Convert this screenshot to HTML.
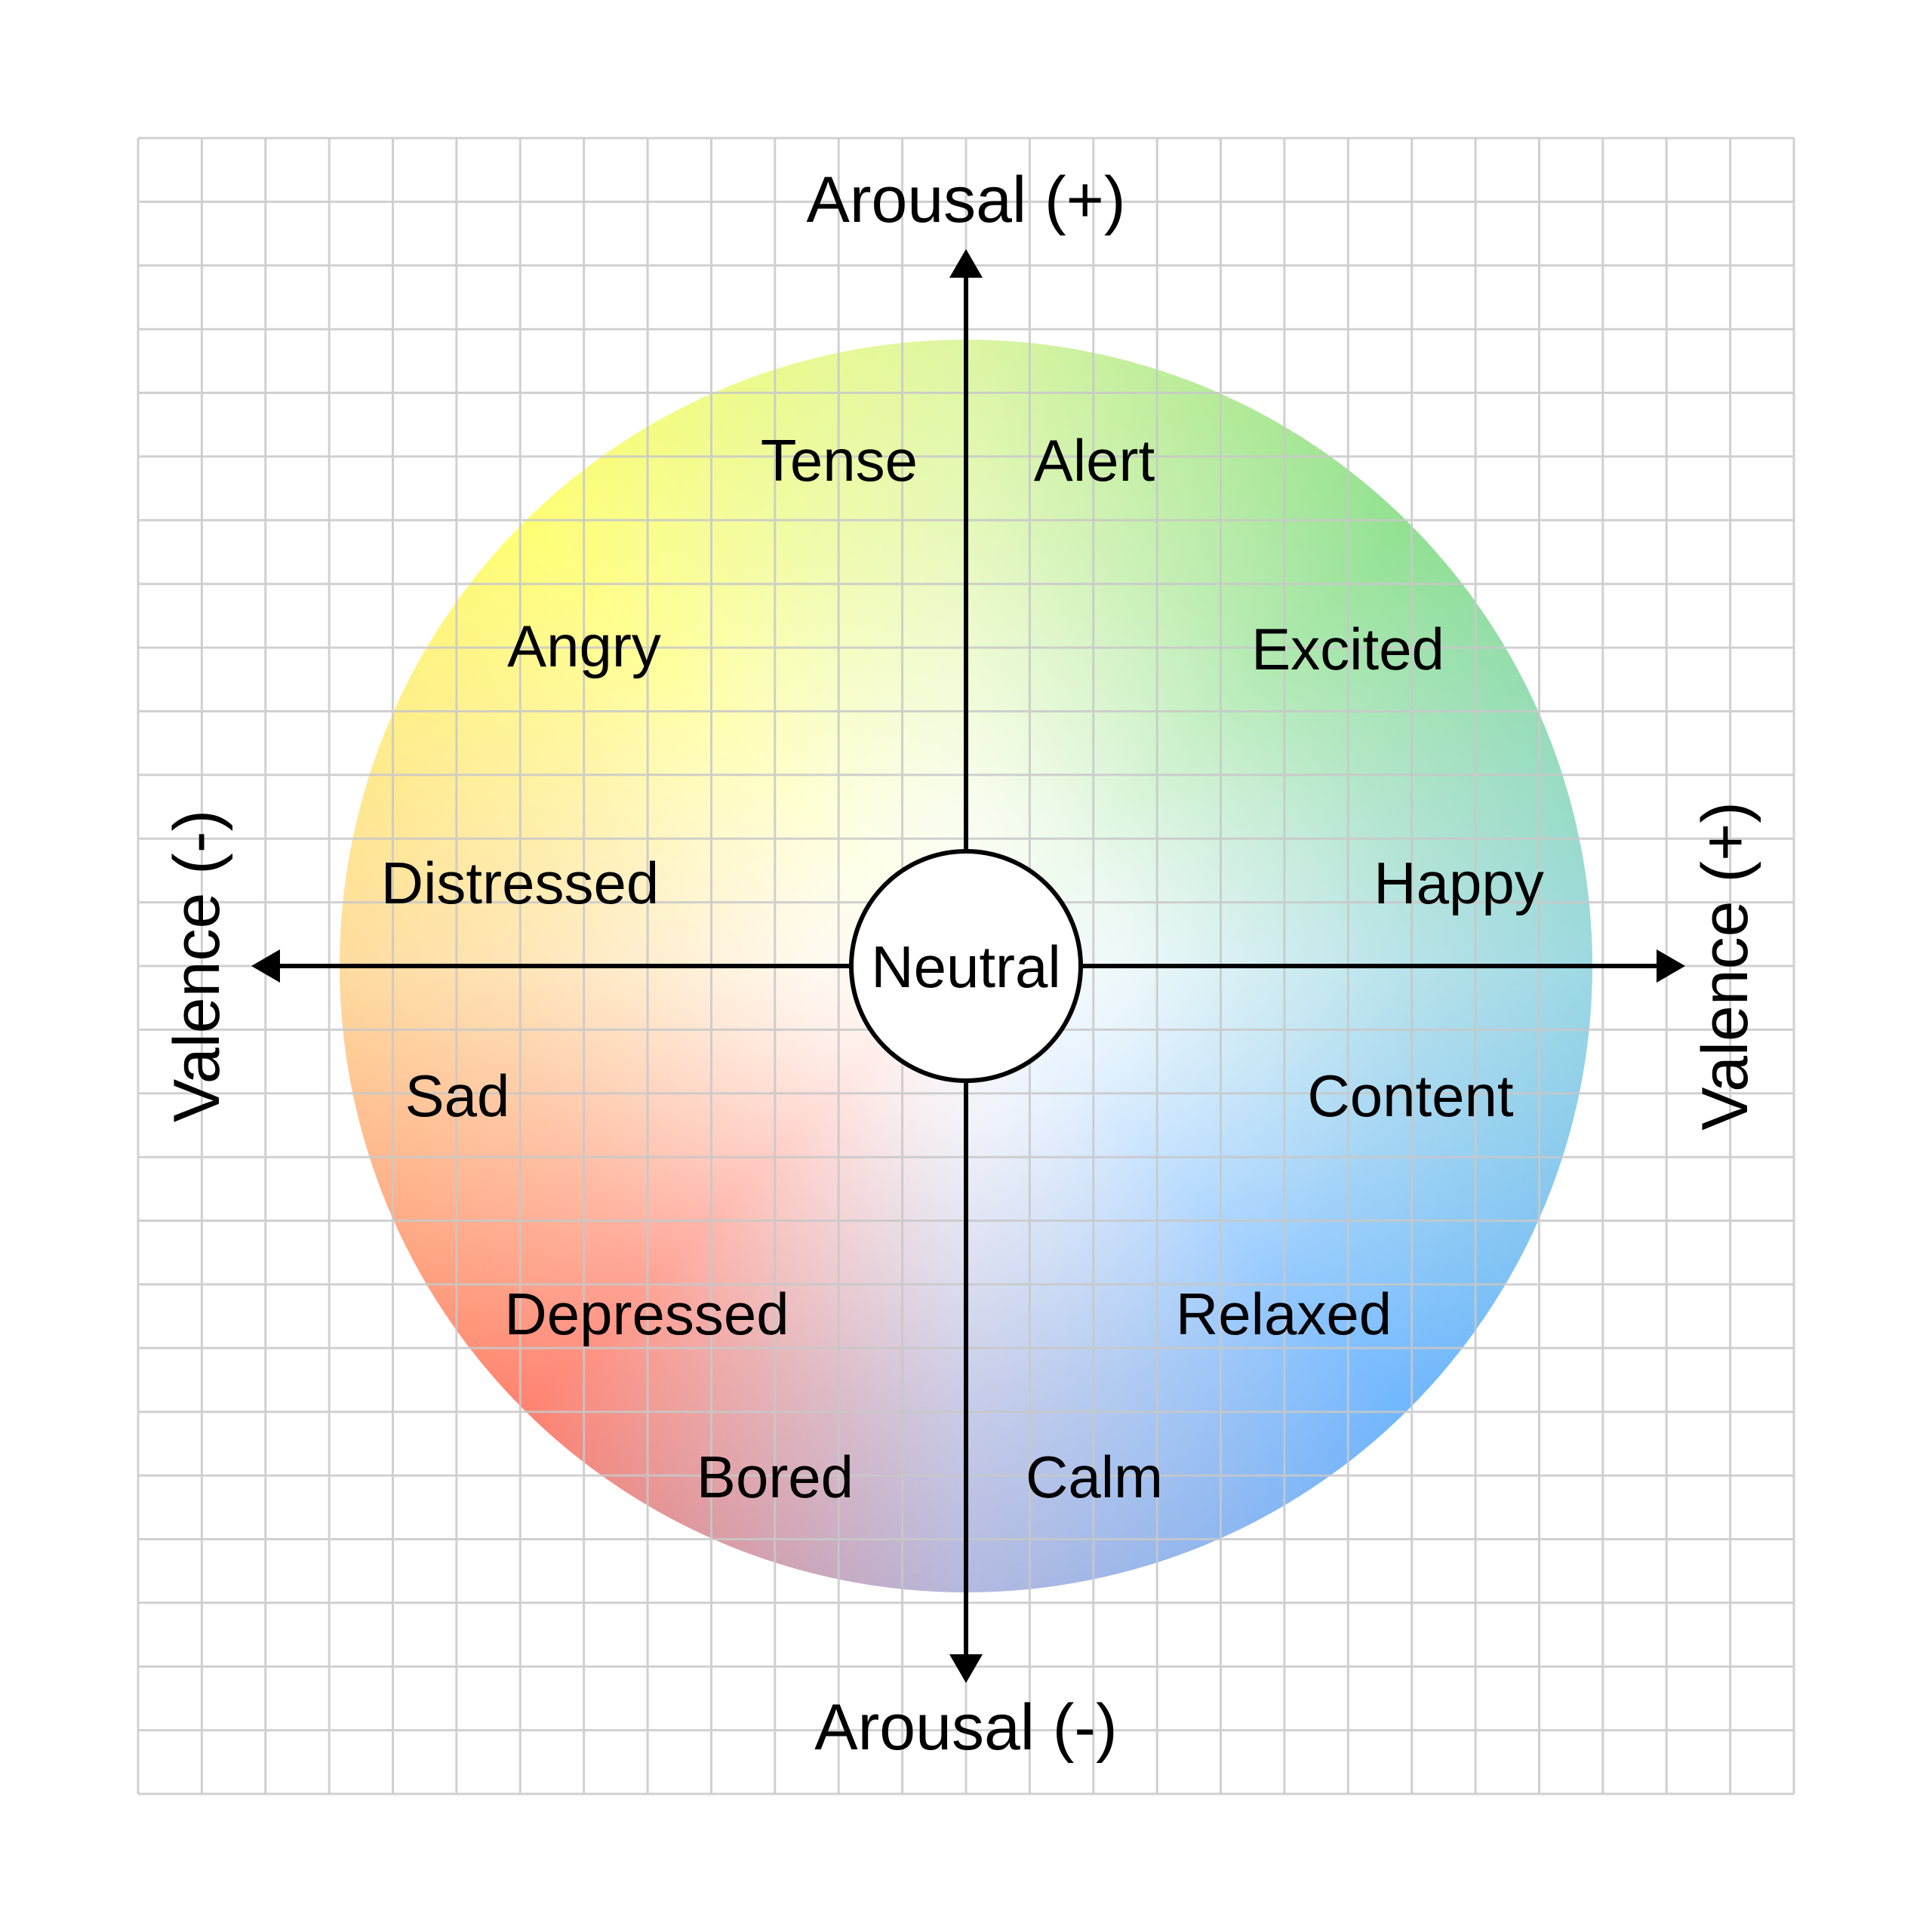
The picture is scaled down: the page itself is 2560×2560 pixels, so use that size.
<!DOCTYPE html>
<html><head><meta charset="utf-8"><style>
html,body{margin:0;padding:0;background:#fff;}
#wrap{position:relative;width:2560px;height:2560px;overflow:hidden;background:#fff;}
#disc{position:absolute;left:450px;top:450px;width:1660px;height:1660px;border-radius:50%;
background:
radial-gradient(circle at 50% 50%, rgba(255,255,255,1) 0%, rgba(255,255,255,0.85) 18%, rgba(255,255,255,0.4) 50%, rgba(255,255,255,0.0) 88%),
conic-gradient(from 0deg, #d6f48e 0deg, #78da78 45deg, #88d0dc 90deg, #4fa6ff 135deg, #a3a9d8 180deg, #ff6650 225deg, #ffd48a 270deg, #ffff55 315deg, #d6f48e 360deg);}
svg{position:absolute;left:0;top:0;}
text{font-family:"Liberation Sans",Arial,sans-serif;fill:#000;}
</style></head><body><div id="wrap">
<div id="disc"></div>
<svg width="2560" height="2560" viewBox="0 0 2560 2560">
<path stroke="#c8c8c8" stroke-width="3" stroke-opacity="0.85" fill="none" d="
M183 183V2377 M267.4 183V2377 M351.8 183V2377 M436.2 183V2377 M520.5 183V2377 M604.9 183V2377 M689.3 183V2377 M773.7 183V2377 M858.1 183V2377 M942.5 183V2377 M1026.8 183V2377 M1111.2 183V2377 M1195.6 183V2377 M1280 183V2377 M1364.4 183V2377 M1448.8 183V2377 M1533.2 183V2377 M1617.5 183V2377 M1701.9 183V2377 M1786.3 183V2377 M1870.7 183V2377 M1955.1 183V2377 M2039.5 183V2377 M2123.8 183V2377 M2208.2 183V2377 M2292.6 183V2377 M2377 183V2377
M183 183H2377 M183 267.4H2377 M183 351.8H2377 M183 436.2H2377 M183 520.5H2377 M183 604.9H2377 M183 689.3H2377 M183 773.7H2377 M183 858.1H2377 M183 942.5H2377 M183 1026.8H2377 M183 1111.2H2377 M183 1195.6H2377 M183 1280H2377 M183 1364.4H2377 M183 1448.8H2377 M183 1533.2H2377 M183 1617.5H2377 M183 1701.9H2377 M183 1786.3H2377 M183 1870.7H2377 M183 1955.1H2377 M183 2039.5H2377 M183 2123.8H2377 M183 2208.2H2377 M183 2292.6H2377 M183 2377H2377"/>
<g stroke="#000" stroke-width="6">
<line x1="1280" y1="365" x2="1280" y2="1128"/>
<line x1="1280" y1="1432" x2="1280" y2="2195"/>
<line x1="371" y1="1280" x2="1128" y2="1280"/>
<line x1="1432" y1="1280" x2="2195" y2="1280"/>
</g>
<g fill="#000">
<polygon points="1280,330 1258,368 1302,368"/>
<polygon points="1280,2230 1258,2192 1302,2192"/>
<polygon points="333,1280 371,1258 371,1302"/>
<polygon points="2233,1280 2195,1258 2195,1302"/>
</g>
<circle cx="1280" cy="1280" r="152" fill="#fff" stroke="#000" stroke-width="6"/>
<text x="1280" y="1308" font-size="78" text-anchor="middle">Neutral</text>
<g font-size="86" text-anchor="middle">
<text x="1280" y="294">Arousal (+)</text>
<text x="1280" y="2318">Arousal (-)</text>
<text transform="translate(290,1280) rotate(-90)">Valence (-)</text>
<text transform="translate(2315,1280) rotate(-90)">Valence (+)</text>
</g>
<g font-size="78" text-anchor="middle">
<text x="1112" y="637">Tense</text>
<text x="1450" y="637">Alert</text>
<text x="774" y="883">Angry</text>
<text x="1786" y="887">Excited</text>
<text x="689" y="1197">Distressed</text>
<text x="1933" y="1197">Happy</text>
<text x="606" y="1479">Sad</text>
<text x="1869" y="1479">Content</text>
<text x="857" y="1768">Depressed</text>
<text x="1701" y="1768">Relaxed</text>
<text x="1027" y="1984">Bored</text>
<text x="1450" y="1984">Calm</text>
</g>
</svg>
</div></body></html>
